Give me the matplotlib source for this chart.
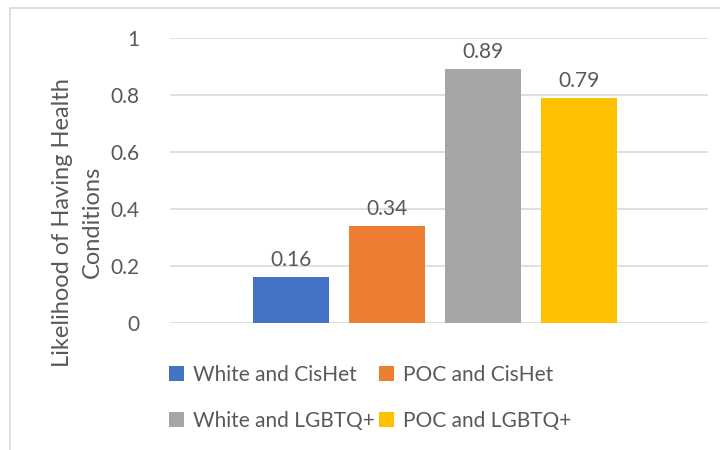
import matplotlib.pyplot as plt
from matplotlib.patches import Rectangle

groups = ["White and CisHet", "POC and CisHet", "White and LGBTQ+", "POC and LGBTQ+"]
values = [0.16, 0.34, 0.89, 0.79]
colors = ["#4472C4", "#ED7D31", "#A5A5A5", "#FFC000"]
yticks = [0, 0.2, 0.4, 0.6, 0.8, 1]
ylabels = ["0", "0.2", "0.4", "0.6", "0.8", "1"]

plt.rcParams["font.family"] = ["Lato", "DejaVu Sans"]
txt = "#595959"

fig = plt.figure(figsize=(7.2, 4.5), dpi=100)
fig.patches.append(Rectangle((10 / 720, -0.05), 1.1, 1 - 8 / 450 + 0.05,
                             transform=fig.transFigure, fill=False,
                             edgecolor="#D9D9D9", linewidth=1.2))

ax = fig.add_axes([170 / 720, 1 - 323 / 450, 538 / 720, 285 / 450])
pos = [0.225, 0.403, 0.582, 0.760]
bars = ax.bar(pos, values, width=0.141, color=colors, label=groups, zorder=3)
for b, v in zip(bars, values):
    ax.text(b.get_x() + b.get_width() / 2, v + 0.025, "%.2f" % v,
            ha="center", va="bottom", fontsize=15, color=txt)

ax.set_xlim(0, 1)
ax.set_ylim(0, 1)
ax.set_yticks(yticks)
ax.set_yticklabels(ylabels)
ax.set_xticks([])
ax.grid(axis="y", color="#D9D9D9", linewidth=1.2, zorder=0)
for s in ax.spines.values():
    s.set_visible(False)
ax.tick_params(axis="y", length=0, pad=22, labelsize=15, labelcolor=txt)
ax.set_ylabel("Likelihood of Having Health\nConditions", fontsize=17,
              color=txt, linespacing=1.5)
ax.yaxis.set_label_coords(-0.125, 0.354)

# fill legend row by row: matplotlib fills columns first
order = [0, 2, 1, 3]
fig.legend(handles=[bars[i] for i in order], labels=[groups[i] for i in order],
           ncol=2, loc="upper left", bbox_to_anchor=(150 / 720, 1 - 346 / 450),
           frameon=False, fontsize=15, labelcolor=txt, handlelength=0.75,
           handleheight=0.75, handletextpad=0.4, columnspacing=0.2,
           labelspacing=1.25)

fig.savefig("out.png", dpi=100)
